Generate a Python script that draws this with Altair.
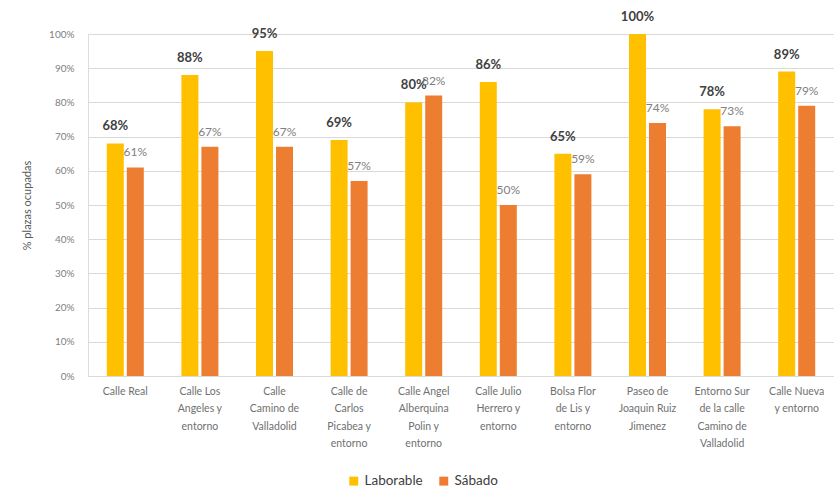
import altair as alt
import pandas as pd

categories = [
    "Calle Real",
    "Calle Los|Angeles y|entorno",
    "Calle|Camino de|Valladolid",
    "Calle de|Carlos|Picabea y|entorno",
    "Calle Angel|Alberquina|Polin y|entorno",
    "Calle Julio|Herrero y|entorno",
    "Bolsa Flor|de Lis y|entorno",
    "Paseo de|Joaquin Ruiz|Jimenez",
    "Entorno Sur|de la calle|Camino de|Valladolid",
    "Calle Nueva|y entorno",
]
laborable = [68, 88, 95, 69, 80, 86, 65, 100, 78, 89]
sabado = [61, 67, 67, 57, 82, 50, 59, 74, 73, 79]
series = ["Laborable", "Sábado"]
colors = ["#FFC000", "#ED7D31"]
y_ticks = [0, 10, 20, 30, 40, 50, 60, 70, 80, 90, 100]

rows = []
for c, a, b in zip(categories, laborable, sabado):
    rows.append({"cat": c, "serie": series[0], "v": a})
    rows.append({"cat": c, "serie": series[1], "v": b})
df = pd.DataFrame(rows)

FONT = "Lato"

x = alt.X(
    "cat:N",
    sort=categories,
    scale=alt.Scale(paddingInner=0.504, paddingOuter=0.252),
    axis=alt.Axis(
        title=None,
        labelExpr="split(datum.label, '|')",
        labelAngle=0,
        labelFontSize=10.5,
        labelColor="#707070",
        labelFont=FONT,
        labelLineHeight=17.5,
        labelPadding=10,
        ticks=False,
        domainColor="#d9d9d9",
        labelBaseline="top",
    ),
)
xo = alt.XOffset("serie:N", sort=series, scale=alt.Scale(paddingInner=0.15))
y = alt.Y(
    "v:Q",
    scale=alt.Scale(domain=[0, 100], nice=False),
    axis=alt.Axis(
        title="% plazas ocupadas",
        values=y_ticks,
        labelExpr="datum.value + '%'",
        labelOverlap=False,
        grid=True,
        gridColor="#d9d9d9",
        domain=False,
        ticks=False,
        labelFontSize=10,
        labelColor="#808080",
        labelFont=FONT,
        labelPadding=14,
        titleFont=FONT,
        titleFontSize=11,
        titleFontWeight="normal",
        titleColor="#595959",
        titlePadding=16,
    ),
)
color = alt.Color(
    "serie:N",
    sort=series,
    scale=alt.Scale(domain=series, range=colors),
    legend=alt.Legend(
        title=None,
        orient="none",
        direction="horizontal",
        legendX=259,
        legendY=440,
        symbolType="square",
        symbolSize=80,
        symbolStrokeWidth=0,
        labelFontSize=13.5,
        labelColor="#404040",
        labelFont=FONT,
        columnPadding=14,
    ),
)

bars = alt.Chart(df).mark_bar().encode(x=x, xOffset=xo, y=y, color=color)

lab1 = (
    alt.Chart(df)
    .transform_filter(alt.datum.serie == "Laborable")
    .transform_calculate(t="datum.v + '%'")
    .mark_text(baseline="middle", dy=-17, fontSize=13, fontWeight="bold", color="#404040", font=FONT)
    .encode(x=x, xOffset=xo, y=y, text="t:N")
)
lab2 = (
    alt.Chart(df)
    .transform_filter(alt.datum.serie == "Sábado")
    .transform_calculate(t="datum.v + '%'")
    .mark_text(baseline="middle", dy=-15, fontSize=12, color="#808080", font=FONT)
    .encode(x=x, xOffset=xo, y=y, text="t:N")
)

chart = (
    alt.layer(bars, lab1, lab2)
    .properties(
        width=746,
        height=342,
        autosize=alt.AutoSizeParams(type="none"),
        padding={"left": 88, "top": 34, "right": 0, "bottom": 113},
    )
    .configure_view(stroke=None)
    .configure(background="white")
)

chart.save("out.html", embed_options={"renderer": "svg", "actions": False})
